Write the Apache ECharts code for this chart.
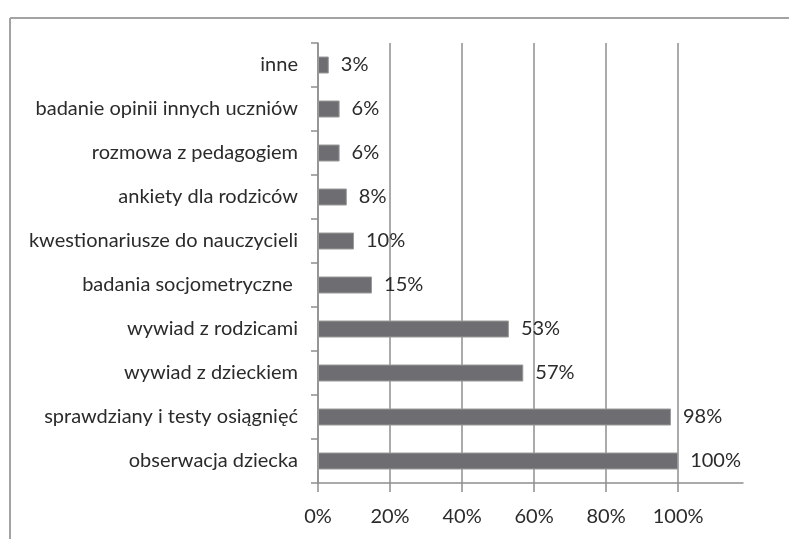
<!DOCTYPE html>
<html>
<head>
<meta charset="utf-8">
<script src="https://cdn.jsdelivr.net/npm/echarts@6/dist/echarts.min.js"></script>
<style>
html,body{margin:0;padding:0;background:#fff;}
#chart{width:789px;height:539px;}
</style>
</head>
<body>
<div id="chart"></div>
<script>
const categories = [
  'obserwacja dziecka',
  'sprawdziany i testy osiągnięć',
  'wywiad z dzieckiem',
  'wywiad z rodzicami',
  'badania socjometryczne ',
  'kwestionariusze do nauczycieli',
  'ankiety dla rodziców',
  'rozmowa z pedagogiem',
  'badanie opinii innych uczniów',
  'inne'
];
const values = [100, 98, 57, 53, 15, 10, 8, 6, 6, 3];
const tickValues = [0, 20, 40, 60, 80, 100];

const FONT = 'Lato';
const chart = echarts.init(document.getElementById('chart'), null, {renderer: 'canvas'});
chart.setOption({
  animation: false,
  backgroundColor: '#ffffff',
  textStyle: {fontFamily: FONT},
  graphic: [
    {type: 'line', shape: {x1: 10, y1: 18, x2: 789, y2: 18}, style: {stroke: '#a3a3a3', lineWidth: 2}},
    {type: 'line', shape: {x1: 10, y1: 18, x2: 10, y2: 539}, style: {stroke: '#a3a3a3', lineWidth: 2}}
  ],
  grid: {left: 318, top: 43, right: 46, bottom: 56, containLabel: false},
  xAxis: {
    type: 'value',
    min: 0,
    max: 118,
    axisLine: {show: true, lineStyle: {color: '#8f8f8f', width: 1.5}},
    axisTick: {show: true, length: 9, customValues: tickValues, lineStyle: {color: '#8f8f8f', width: 1.5}},
    axisLabel: {
      customValues: tickValues,
      formatter: v => v + '%',
      color: '#2b2b2b', fontSize: 20, fontFamily: FONT, margin: 24
    },
    splitLine: {show: true, lineStyle: {color: '#8f8f8f', width: 1.5}}
  },
  yAxis: {
    type: 'category',
    data: categories,
    axisLine: {show: true, lineStyle: {color: '#8f8f8f', width: 1.5}},
    axisTick: {show: true, length: 7, lineStyle: {color: '#8f8f8f', width: 1.5}},
    axisLabel: {color: '#2b2b2b', fontSize: 20, fontFamily: FONT, margin: 20}
  },
  series: [{
    type: 'bar',
    data: values,
    barWidth: 17,
    itemStyle: {color: '#6e6e72', borderColor: '#9a9a9a', borderWidth: 1},
    label: {
      show: true, position: 'right', distance: 12,
      formatter: p => p.value + '%',
      color: '#2b2b2b', fontSize: 20, fontFamily: FONT
    }
  }]
});
</script>
</body>
</html>
